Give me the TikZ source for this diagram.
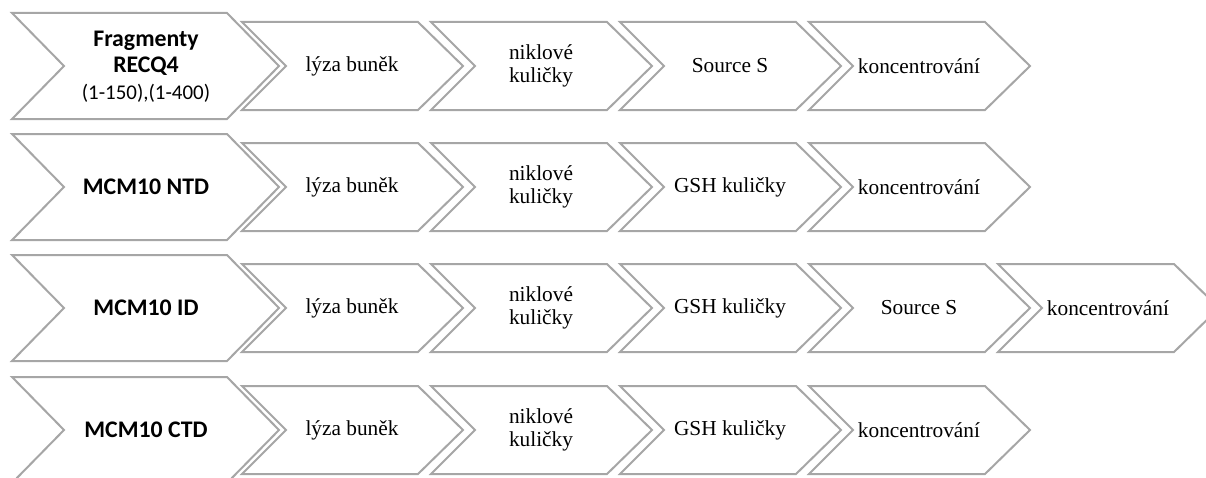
\documentclass[tikz,border=0pt]{standalone}
\usepackage{fontspec}
\setmainfont{Liberation Serif}
\newfontfamily\calfont{Carlito}
\definecolor{chevgray}{HTML}{A6A6A6}
\newcommand\bigchev[1]{%
  \draw[chev] (12,{#1-53}) -- (227,{#1-53}) -- (279,#1) -- (227,{#1+53}) -- (12,{#1+53}) -- (64,#1) -- cycle;}
\newcommand\smallchev[2]{%
  \draw[chev] (#1,{#2-44}) -- ({#1+176},{#2-44}) -- ({#1+221},#2) -- ({#1+176},{#2+44}) -- (#1,{#2+44}) -- ({#1+44},#2) -- cycle;}
\begin{document}
\begin{tikzpicture}[x=0.75pt,y=-0.75pt,
  chev/.style={draw=chevgray,line width=1.5pt,fill=white,line join=miter},
  biglabel/.style={align=center,inner sep=0pt,font=\calfont\bfseries\fontsize{17.85}{19.5}\selectfont},
  steplabel/.style={align=center,inner sep=0pt,font=\fontsize{16}{17}\selectfont}]
\useasboundingbox (0,0) rectangle (1206,478);
% rows: centres 66, 187, 308, 430
\foreach \cy in {66,187,308,430} {\bigchev{\cy}}
\foreach \cy in {66,187,430} {\foreach \i in {0,1,2,3} {\smallchev{242+189*\i}{\cy}}}
\foreach \i in {0,1,2,3,4} {\smallchev{242+189*\i}{308}}
% row 1
\node[biglabel] (r1a) at (146,67) {Fragmenty\\RECQ4\\[1pt]{\mdseries\fontsize{15.7}{19.5}\selectfont (1-150),(1-400)}};
\node[steplabel] (r1b) at (352,66) {lýza buněk};
\node[steplabel] (r1c) at (541,66) {niklové\\kuličky};
\node[steplabel] (r1d) at (730,66) {Source S};
\node[steplabel] (r1e) at (919,66) {koncentrování};
% row 2
\node[biglabel] (r2a) at (146,187) {MCM10 NTD};
\node[steplabel] (r2b) at (352,187) {lýza buněk};
\node[steplabel] (r2c) at (541,187) {niklové\\kuličky};
\node[steplabel] (r2d) at (730,187) {GSH kuličky};
\node[steplabel] (r2e) at (919,187) {koncentrování};
% row 3
\node[biglabel] (r3a) at (146,308) {MCM10 ID};
\node[steplabel] (r3b) at (352,308) {lýza buněk};
\node[steplabel] (r3c) at (541,308) {niklové\\kuličky};
\node[steplabel] (r3d) at (730,308) {GSH kuličky};
\node[steplabel] (r3e) at (919,308) {Source S};
\node[steplabel] (r3f) at (1108,308) {koncentrování};
% row 4
\node[biglabel] (r4a) at (146,430) {MCM10 CTD};
\node[steplabel] (r4b) at (352,430) {lýza buněk};
\node[steplabel] (r4c) at (541,430) {niklové\\kuličky};
\node[steplabel] (r4d) at (730,430) {GSH kuličky};
\node[steplabel] (r4e) at (919,430) {koncentrování};
\end{tikzpicture}
\end{document}
